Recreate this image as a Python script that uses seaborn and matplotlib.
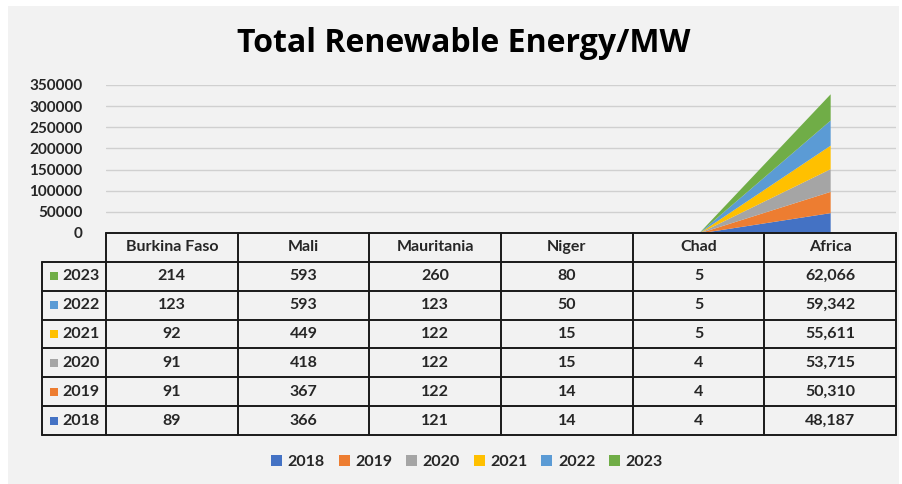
import numpy as np
import matplotlib
matplotlib.use("Agg")
import matplotlib.pyplot as plt
from matplotlib.patches import Rectangle, Patch
import seaborn as sns

# Datos del gráfico (MW)
paises = ["Burkina Faso", "Mali", "Mauritania", "Niger", "Chad", "Africa"]
anios = ["2018", "2019", "2020", "2021", "2022", "2023"]
v2018 = [89, 366, 121, 14, 4, 48187]
v2019 = [91, 367, 122, 14, 4, 50310]
v2020 = [91, 418, 122, 15, 4, 53715]
v2021 = [92, 449, 122, 15, 5, 55611]
v2022 = [123, 593, 123, 50, 5, 59342]
v2023 = [214, 593, 260, 80, 5, 62066]
y_ticks = [0, 50000, 100000, 150000, 200000, 250000, 300000, 350000]

series = [v2018, v2019, v2020, v2021, v2022, v2023]
colores = sns.color_palette(["#4472c4", "#ed7d31", "#a5a5a5", "#ffc000", "#5b9bd5", "#70ad47"])

sns.set_style("white")
plt.rcParams['font.family'] = ['Lato', 'DejaVu Sans']
texto = '#262626'
fs = 11.5

W, H = 903, 484
fig = plt.figure(figsize=(W / 100, H / 100), dpi=100)
fig.patch.set_facecolor('white')
fig.patches.append(Rectangle((8 / W, 0), (899 - 8) / W, (H - 6) / H, transform=fig.transFigure,
                             facecolor='#f2f2f2', edgecolor='none', zorder=-10))

# Área apilada
x0, x1 = 106, 896
ax = fig.add_axes([x0 / W, (H - 233) / H, (x1 - x0) / W, 148 / H])
ax.set_facecolor('none')
x = np.arange(len(paises))
ax.stackplot(x, *series, colors=colores, linewidth=0, zorder=3)
ax.set_xlim(-0.5, len(paises) - 0.5)
ax.set_ylim(0, 350000)
ax.set_yticks(y_ticks)
ax.set_yticklabels([str(t) for t in y_ticks], fontsize=11, fontweight='bold', color=texto)
ax.tick_params(axis='y', length=0, pad=17)
ax.set_xticks([])
for t in y_ticks[1:]:
    ax.axhline(t, color='#d0d0d0', linewidth=1, zorder=1)
for s in ax.spines.values():
    s.set_visible(False)

# Tabla de datos
tax = fig.add_axes([x0 / W, (H - 435) / H, (x1 - x0) / W, 202 / H])
tax.set_facecolor('none')
tax.set_xlim(-0.5, len(paises) - 0.5)
tax.set_ylim(len(anios) + 1, 0)
tax.axis('off')
w_lab = 64 / ((x1 - x0) / len(paises))
izq = -0.5 - w_lab
lw = 1.4
tax.plot([-0.5, 5.5], [0, 0], color='#1a1a1a', lw=lw, clip_on=False)
for r in range(1, len(anios) + 2):
    tax.plot([izq, 5.5], [r, r], color='#1a1a1a', lw=lw, clip_on=False)
tax.plot([izq, izq], [1, len(anios) + 1], color='#1a1a1a', lw=lw, clip_on=False)
for c in range(len(paises) + 1):
    tax.plot([c - 0.5, c - 0.5], [0, len(anios) + 1], color='#1a1a1a', lw=lw, clip_on=False)

for c, p in enumerate(paises):
    tax.text(c, 0.5, p, ha='center', va='center', fontsize=fs, fontweight='bold', color=texto)

for r, (anio, vals, col) in enumerate(zip(anios[::-1], series[::-1], colores[::-1])):
    yy = r + 1.5
    tax.scatter([-0.5 - 52 / 131.7], [yy], marker='s', s=40, color=col, clip_on=False, linewidths=0)
    tax.text(-0.5 - 44 / 131.7, yy, anio, ha='left', va='center', fontsize=fs,
             fontweight='bold', color=texto)
    for c, v in enumerate(vals):
        tax.text(c, yy, f"{v:,}", ha='center', va='center', fontsize=fs,
                 fontweight='bold', color=texto)

# Título
fig.text(464 / W, 1 - 43 / H, "Total Renewable Energy/MW", ha='center', va='center',
         fontsize=23, fontweight='bold', color='black', family=['Open Sans', 'DejaVu Sans'])

# Leyenda
handles = [Patch(facecolor=c, edgecolor='none', label=a) for a, c in zip(anios, colores)]
fig.legend(handles=handles, loc='center', bbox_to_anchor=(467 / W, 1 - 462 / H), ncol=6,
           frameon=False, handlelength=0.7, handleheight=0.7, handletextpad=0.35,
           columnspacing=0.85, prop={'weight': 'bold', 'size': fs}, labelcolor=texto)

fig.savefig("out.png", dpi=100, facecolor=fig.get_facecolor())
